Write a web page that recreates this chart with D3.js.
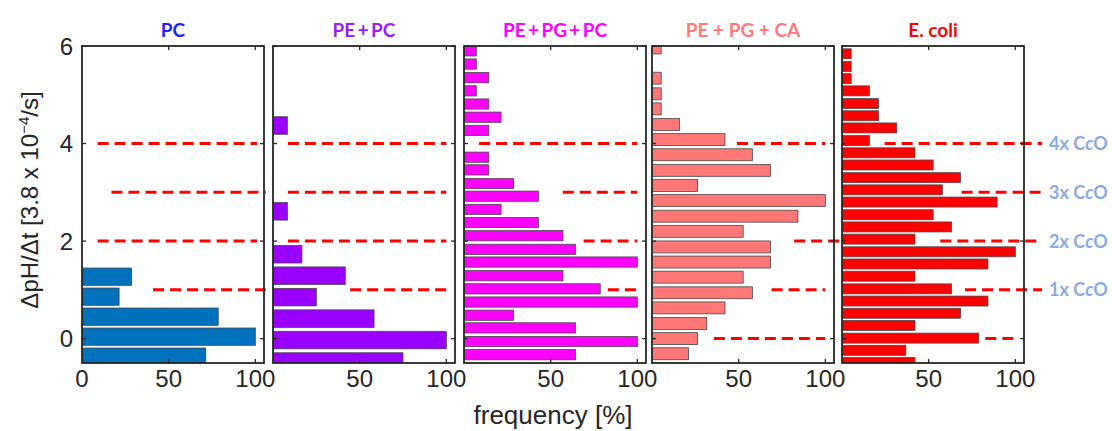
<!DOCTYPE html>
<html>
<head>
<meta charset="utf-8">
<script src="https://cdn.jsdelivr.net/npm/d3@7"></script>
<style>
  body { margin: 0; background: #fff; }
  svg { display: block; }
</style>
</head>
<body>
<div id="chart"></div>
<script>
// bin centres (ΔpH/Δt) and frequency [%] per membrane, bottom to top
const pcBins = [-0.37, 0.04, 0.45, 0.86, 1.27];
const pcFreq = [71.4, 100, 78.6, 21.4, 28.6];

const pePcBins = [-0.47, -0.03, 0.41, 0.85, 1.29, 1.73, 2.61, 4.37];
const pePcFreq = [75, 100, 58.3, 25, 41.7, 16.7, 8.3, 8.3];

const pePgPcBins = [-0.33, -0.06, 0.22, 0.48, 0.75, 1.02, 1.29, 1.57, 1.83, 2.11, 2.38, 2.65,
    2.92, 3.18, 3.46, 3.72, 4.27, 4.54, 4.81, 5.08, 5.35, 5.63, 5.9];
const pePgPcFreq = [64.3, 100, 64.3, 28.6, 100, 78.6, 57.1, 100, 64.3, 57.1, 42.9, 21.4,
    42.9, 28.6, 14.3, 14.3, 14.3, 21.4, 14.3, 7.1, 14.3, 7.1, 7.1];

const pePgCaBins = [-0.31, 0.0, 0.31, 0.63, 0.94, 1.26, 1.57, 1.88, 2.2, 2.51, 2.83, 3.14,
    3.45, 3.77, 4.08, 4.39, 4.71, 5.02, 5.34, 5.96];
const pePgCaFreq = [21.1, 26.3, 31.6, 42.1, 57.9, 52.6, 68.4, 68.4, 52.6, 84.2, 100, 26.3,
    68.4, 57.9, 42.1, 15.8, 5.3, 5.3, 5.3, 5.3];

const ecoliBins = [-0.49, -0.24, 0.01, 0.27, 0.52, 0.77, 1.02, 1.28, 1.53, 1.78, 2.04, 2.29,
    2.54, 2.8, 3.05, 3.3, 3.56, 3.81, 4.06, 4.32, 4.57, 4.82, 5.08, 5.33, 5.58, 5.84];
const ecoliFreq = [42.1, 36.8, 78.9, 42.1, 68.4, 84.2, 63.2, 42.1, 84.2, 100, 42.1, 63.2,
    52.6, 89.5, 57.9, 68.4, 52.6, 42.1, 15.8, 31.6, 21.1, 21.1, 15.8, 5.3, 5.3, 5.3];

// red dashed CcO levels: [level, from %, to %]
const pcLines = [[4, 9, 101], [3, 17, 106], [2, 9, 101], [1, 41, 106]];
const pePcLines = [[4, 8.6, 100], [3, 8.6, 100], [2, 8.6, 100], [1, 44.5, 100]];
const pePgPcLines = [[4, 8.7, 100], [3, 57, 100], [2, 69, 100], [1, 83, 100]];
const pePgCaLines = [[4, 49, 100], [2, 82, 108.7], [1, 69, 100], [0, 35.7, 100]];
const ecoliLines = [[4, 24.6, 115.4], [3, 69, 115.4], [2, 56.7, 115.4], [1, 71, 115.4], [0, 82.7, 100]];

const titles = ["PC", "PE\u2009+\u2009PC", "PE\u2009+\u2009PG\u2009+\u2009PC", "PE + PG + CA", "E. coli"];
const titleColors = ["#1f1fff", "#9b1cff", "#ff00ff", "#ff7b7b", "#ff0000"];
const barColors = ["#0072bd", "#9900ff", "#ff00ff", "#ff7777", "#ff0000"];

const cooLevels = [4, 3, 2, 1];
const cooLabels = ["4x", "3x", "2x", "1x"];

const yTicks = [0, 2, 4, 6];

const panels = [
    {bins: pcBins, freq: pcFreq, lines: pcLines, thick: 0.355, xTicks: [0, 50, 100]},
    {bins: pePcBins, freq: pePcFreq, lines: pePcLines, thick: 0.36, xTicks: [50, 100]},
    {bins: pePgPcBins, freq: pePgPcFreq, lines: pePgPcLines, thick: 0.21, xTicks: [50, 100]},
    {bins: pePgCaBins, freq: pePgCaFreq, lines: pePgCaLines, thick: 0.245, xTicks: [50, 100]},
    {bins: ecoliBins, freq: ecoliFreq, lines: ecoliLines, thick: 0.205, xTicks: [50, 100]},
];

const width = 1112, height = 431;
const panelLeft = [82, 273, 464, 652, 842];
const panelW = 182;
const plotTop = 46, plotBottom = 363;
const axisColor = "#262626";
const numFont = "'Liberation Sans', Arial, sans-serif";
const titleFont = "Lato, 'Open Sans', sans-serif";

const svg = d3.select("#chart")
    .append("svg")
    .attr("width", width)
    .attr("height", height);

const y = d3.scaleLinear().domain([-0.5, 6]).range([plotBottom, plotTop]);

panels.forEach((p, i) => {
    const x0 = panelLeft[i];
    const x = d3.scaleLinear().domain([0, 105]).range([x0, x0 + panelW]);
    const g = svg.append("g");

    g.append("clipPath").attr("id", "clip" + i)
        .append("rect")
        .attr("x", x0).attr("y", plotTop)
        .attr("width", panelW).attr("height", plotBottom - plotTop);

    const data = p.bins.map((b, k) => ({b: b, f: p.freq[k]}));

    g.append("g").attr("clip-path", `url(#clip${i})`)
        .selectAll("rect")
        .data(data)
        .join("rect")
        .attr("x", x(0))
        .attr("y", d => y(d.b + p.thick / 2))
        .attr("width", d => x(d.f) - x(0))
        .attr("height", d => y(d.b - p.thick / 2) - y(d.b + p.thick / 2))
        .attr("fill", barColors[i])
        .attr("stroke", "#4a4a4a")
        .attr("stroke-width", 0.8);

    // dashed reference lines
    g.selectAll("line.ref")
        .data(p.lines)
        .join("line")
        .attr("class", "ref")
        .attr("x1", d => x(d[1]))
        .attr("x2", d => x(d[2]))
        .attr("y1", d => y(d[0]))
        .attr("y2", d => y(d[0]))
        .attr("stroke", "#ff0000")
        .attr("stroke-width", 3)
        .attr("stroke-dasharray", "11,6");

    // frame
    g.append("rect")
        .attr("x", x0).attr("y", plotTop)
        .attr("width", panelW).attr("height", plotBottom - plotTop)
        .attr("fill", "none")
        .attr("stroke", axisColor)
        .attr("stroke-width", 1.8);

    // inward ticks
    const tickLen = 4;
    p.xTicks.filter(t => t > 0).forEach(t => {
        g.append("line").attr("x1", x(t)).attr("x2", x(t))
            .attr("y1", plotBottom).attr("y2", plotBottom - tickLen)
            .attr("stroke", axisColor).attr("stroke-width", 1.3);
        g.append("line").attr("x1", x(t)).attr("x2", x(t))
            .attr("y1", plotTop).attr("y2", plotTop + tickLen)
            .attr("stroke", axisColor).attr("stroke-width", 1.3);
    });
    yTicks.forEach(t => {
        g.append("line").attr("x1", x0).attr("x2", x0 + tickLen)
            .attr("y1", y(t)).attr("y2", y(t))
            .attr("stroke", axisColor).attr("stroke-width", 1.3);
        g.append("line").attr("x1", x0 + panelW).attr("x2", x0 + panelW - tickLen)
            .attr("y1", y(t)).attr("y2", y(t))
            .attr("stroke", axisColor).attr("stroke-width", 1.3);
    });

    g.selectAll("text.xt")
        .data(p.xTicks)
        .join("text")
        .attr("class", "xt")
        .attr("x", d => x(d))
        .attr("y", 387)
        .attr("text-anchor", "middle")
        .attr("font-family", numFont)
        .attr("font-size", 24)
        .attr("fill", axisColor)
        .text(d => d);

    if (i === 0) {
        g.selectAll("text.yt")
            .data(yTicks)
            .join("text")
            .attr("class", "yt")
            .attr("x", x0 - 9)
            .attr("y", d => y(d))
            .attr("dy", "0.36em")
            .attr("text-anchor", "end")
            .attr("font-family", numFont)
            .attr("font-size", 24)
            .attr("fill", axisColor)
            .text(d => d);
    }

    g.append("text")
        .attr("x", x0 + panelW / 2)
        .attr("y", 37)
        .attr("text-anchor", "middle")
        .attr("font-family", titleFont)
        .attr("font-weight", "bold")
        .attr("font-size", 19)
        .attr("fill", titleColors[i])
        .text(titles[i]);
});

// CcO labels on the right
const cco = svg.selectAll("text.cco")
    .data(cooLevels)
    .join("text")
    .attr("class", "cco")
    .attr("x", 1049)
    .attr("y", d => y(d))
    .attr("dy", "0.36em")
    .attr("font-family", titleFont)
    .attr("font-weight", "bold")
    .attr("font-size", 18)
    .attr("fill", "#8eaadc");
cco.append("tspan").text((d, k) => cooLabels[k] + " C");
cco.append("tspan").attr("font-style", "italic").text("c");
cco.append("tspan").text("O");

// axis labels
const yl = svg.append("text")
    .attr("transform", `translate(38,200) rotate(-90)`)
    .attr("text-anchor", "middle")
    .attr("font-family", numFont)
    .attr("font-size", 24)
    .attr("fill", axisColor);
yl.append("tspan").text("ΔpH/Δt [3.8 x 10");
yl.append("tspan").attr("font-size", 15).attr("dy", -9).text("−4");
yl.append("tspan").attr("dy", 9).text("/s]");

svg.append("text")
    .attr("x", 553)
    .attr("y", 424)
    .attr("text-anchor", "middle")
    .attr("font-family", numFont)
    .attr("font-size", 26)
    .attr("fill", axisColor)
    .text("frequency [%]");
</script>
</body>
</html>
